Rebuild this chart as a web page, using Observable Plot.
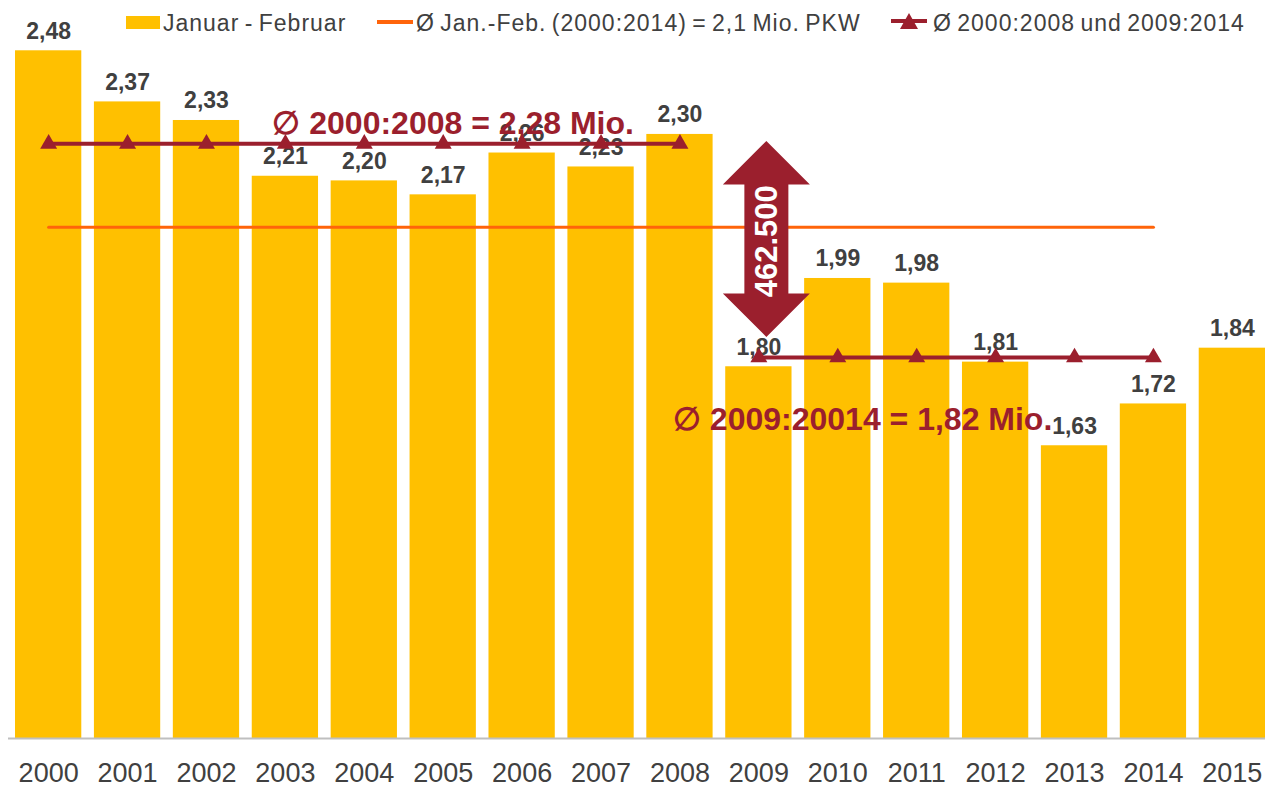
<!DOCTYPE html>
<html>
<head>
<meta charset="utf-8">
<script src="https://cdn.jsdelivr.net/npm/d3@7"></script>
<script src="https://cdn.jsdelivr.net/npm/@observablehq/plot@0.6"></script>
<style>
  html, body { margin: 0; padding: 0; background: #fff; }
  #wrap { position: relative; width: 1266px; height: 785px; overflow: hidden; font-family: "Liberation Sans", Arial, sans-serif; }
  .lg { position: absolute; font-size: 23px; line-height: 23px; color: #404040; letter-spacing: 1px; word-spacing: -2px; white-space: nowrap; }
  g[aria-label="values"] text { letter-spacing: 1px; }
</style>
</head>
<body>
<div id="wrap">
  <div id="chart"></div>
  <div style="position:absolute;left:126px;top:16px;width:34px;height:13px;background:#FFC000"></div>
  <div class="lg" style="left:163px;top:12px">Januar - Februar</div>
  <div style="position:absolute;left:377px;top:20px;width:36px;height:4px;background:#FF640A"></div>
  <div class="lg" style="left:416px;top:12px">Ø Jan.-Feb. (2000:2014) = 2,1 Mio. PKW</div>
  <svg style="position:absolute;left:891px;top:11px" width="36" height="22">
    <line x1="0" x2="36" y1="10" y2="10" stroke="#9B1F2D" stroke-width="4"></line>
    <polygon points="18,2 27,18 9,18" fill="#9B1F2D"></polygon>
  </svg>
  <div class="lg" style="left:933px;top:12px">Ø 2000:2008 und 2009:2014</div>
</div>
<script>
const years = ["2000","2001","2002","2003","2004","2005","2006","2007","2008","2009","2010","2011","2012","2013","2014","2015"];
const values = [2.48, 2.37, 2.33, 2.21, 2.20, 2.17, 2.26, 2.23, 2.30, 1.80, 1.99, 1.98, 1.81, 1.63, 1.72, 1.84];

const overallYears = years.slice(0, 15);          // 2000–2014
const overallAvg = 2.1;

const period1Years = years.slice(0, 9);           // 2000–2008
const period1Avg = 2.28;
const period2Years = years.slice(9, 15);          // 2009–2014
const period2Avg = 1.82;

const arrowYear = "2009";
const arrowFrom = 2.285;
const arrowTo = 1.863;
const arrowLabel = "462.500";
const arrowLabelValue = 2.07;

const yMin = 1.0, yMax = 2.5;

const gold = "#FFC000", orange = "#FF640A", darkRed = "#9B1F2D", textCol = "#404040";

const bars = years.map((year, i) => ({year, value: values[i]}));
const overall = overallYears.map(year => ({year, value: overallAvg}));
const periods = [
  ...period1Years.map(year => ({year, value: period1Avg, period: "p1"})),
  ...period2Years.map(year => ({year, value: period2Avg, period: "p2"}))
];
const fmt = v => v.toFixed(2).replace(".", ",");

function arrowMark(index, scales) {
  const x = scales.x, y = scales.y;
  const cx = x(arrowYear) + x.bandwidth() / 2 + 8;
  const yt = y(arrowFrom), yb = y(arrowTo);
  const hw = 43.5, sw = 22, hh = 43.5;
  const pts = [[cx, yt], [cx + hw, yt + hh], [cx + sw, yt + hh], [cx + sw, yb - hh], [cx + hw, yb - hh],
               [cx, yb], [cx - hw, yb - hh], [cx - sw, yb - hh], [cx - sw, yt + hh], [cx - hw, yt + hh]];
  const ns = "http://www.w3.org/2000/svg";
  const g = document.createElementNS(ns, "g");
  const p = document.createElementNS(ns, "polygon");
  p.setAttribute("points", pts.map(d => d.join(",")).join(" "));
  p.setAttribute("fill", darkRed);
  g.appendChild(p);
  return g;
}

const chart = Plot.plot({
  width: 1266,
  height: 785,
  marginLeft: 15,
  marginRight: 1,
  marginTop: 41,
  marginBottom: 47,
  style: {fontFamily: "'Liberation Sans', Arial, sans-serif", fontSize: "27px", color: textCol, background: "transparent", overflow: "visible"},
  x: {domain: years, paddingInner: 0.16, paddingOuter: 0, round: false, tickSize: 0, tickPadding: 24, label: null},
  y: {domain: [yMin, yMax], axis: null},
  marks: [
    Plot.barY(bars, {x: "year", y1: yMin, y2: "value", fill: gold}),
    Plot.ruleY([yMin], {stroke: "#BFBFBF", strokeWidth: 2, insetLeft: -7}),
    Plot.text(bars, {x: "year", y: "value", text: d => fmt(d.value), dy: -12, lineAnchor: "bottom",
      fontSize: 23, fontWeight: "bold", fill: textCol, ariaLabel: "values"}),
    Plot.line(overall, {x: "year", y: "value", stroke: orange, strokeWidth: 3}),
    Plot.line(periods, {x: "year", y: "value", z: "period", stroke: darkRed, strokeWidth: 4}),
    Plot.dot(periods, {x: "year", y: "value", symbol: "triangle", r: 6.3, fill: darkRed, stroke: null}),
    Plot.text([`∅ 2000:2008 = ${fmt(period1Avg)} Mio.`], {x: () => "2003", y: () => period1Avg, dx: -13, dy: -10,
      textAnchor: "start", lineAnchor: "bottom", fontSize: 32, fontWeight: "bold", fill: darkRed}),
    Plot.text([`∅ 2009:20014 = ${fmt(period2Avg)} Mio.`], {x: () => "2008", y: () => period2Avg, dx: -7, dy: 73,
      textAnchor: "start", lineAnchor: "bottom", fontSize: 32, fontWeight: "bold", fill: darkRed}),
    arrowMark,
    Plot.text([arrowLabel], {x: () => arrowYear, y: () => arrowLabelValue, dx: 8, rotate: -90,
      textAnchor: "middle", lineAnchor: "middle", fontSize: 31, fontWeight: "bold", fill: "white"})
  ]
});
document.getElementById("chart").appendChild(chart);
</script>
</body>
</html>
